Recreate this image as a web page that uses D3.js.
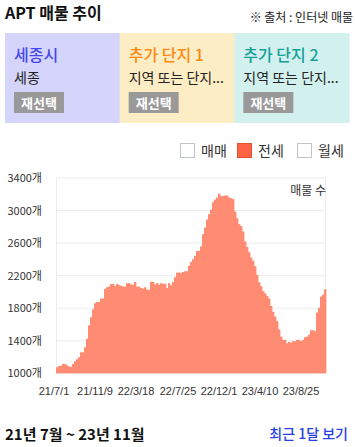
<!DOCTYPE html>
<html><head><meta charset="utf-8">
<script src="https://cdn.jsdelivr.net/npm/d3@7"></script>
<style>
html,body{margin:0;padding:0;background:#fff;}
svg{display:block;font-family:"Noto Sans CJK KR","Noto Sans",sans-serif;}
</style></head>
<body><svg id="c" width="355" height="447"></svg>
<script>
// ---- data ----
const values = [1074,1090,1090,1114,1114,1098,1081,1081,1114,1147,1172,1197,1258,1258,1320,1425,1590,1689,1787,1861,
1877,1877,1918,1918,2037,2057,2065,2098,2098,2073,2098,2085,2073,2065,2065,2107,2107,2090,2090,2123,
2065,2065,2049,2040,2057,2030,2025,2123,2123,2090,2107,2090,2107,2100,2100,2049,2107,2082,2123,2181,
2238,2238,2230,2246,2254,2254,2320,2369,2402,2443,2504,2504,2560,2710,2791,2889,2956,3012,3103,3135,
3160,3209,3177,3177,3185,3185,3160,3152,3140,2988,2906,2833,2808,2742,2619,2554,2488,2422,2381,2316,
2209,2119,2070,2008,1984,1951,1920,1828,1755,1697,1640,1540,1451,1410,1410,1369,1385,1377,1394,1394,
1410,1410,1394,1410,1443,1451,1475,1530,1530,1516,1746,1803,1943,1967,2033];
const tickLabels = ["21/7/1","21/11/9","22/3/18","22/7/25","22/12/1","23/4/10","23/8/25"];
const tickIndex = [-1,19.5,40,61,81.5,102,122.5];
const yTicks = [1000,1400,1800,2200,2600,3000,3400];
const panels = [
  {title:"세종시", sub:"세종", bg:"#d5d5fb", color:"#4646ee"},
  {title:"추가 단지 1", sub:"지역 또는 단지...", bg:"#fdedc4", color:"#ff8a12"},
  {title:"추가 단지 2", sub:"지역 또는 단지...", bg:"#d2f1ee", color:"#16a09a"}
];
const legendItems = [
  {label:"매매", on:false},
  {label:"전세", on:true},
  {label:"월세", on:false}
];

(function(){
const svg = d3.select("#c");

// title
svg.append("text").attr("x",5).attr("y",19).attr("font-size",16).attr("font-weight","bold")
  .attr("fill","#111").text("APT 매물 추이");
svg.append("text").attr("x",353).attr("y",22).attr("text-anchor","end").attr("font-size",12)
  .attr("fill","#222").text("※ 출처 : 인터넷 매물");

// panels
const px = d3.scaleBand().domain(d3.range(panels.length)).range([5,349]);
const pg = svg.selectAll("g.panel").data(panels).join("g")
  .attr("transform",(d,i)=>`translate(${px(i)},33)`);
pg.append("rect").attr("width",px.bandwidth()+0.5).attr("height",90).attr("fill",d=>d.bg);
pg.append("text").attr("x",9).attr("y",28).attr("font-size",16).attr("font-weight",500)
  .attr("fill",d=>d.color).text(d=>d.title);
pg.append("text").attr("x",9).attr("y",50).attr("font-size",14).attr("fill","#222").text(d=>d.sub);
pg.append("rect").attr("x",9).attr("y",59).attr("width",50).attr("height",21).attr("fill","#999");
pg.append("text").attr("x",34).attr("y",74.5).attr("text-anchor","middle").attr("font-size",13)
  .attr("font-weight","bold").attr("fill","#fff").text("재선택");

// legend
const lx = [180,237,297];
const lg = svg.selectAll("g.leg").data(legendItems).join("g")
  .attr("transform",(d,i)=>`translate(${lx[i]},143)`);
lg.append("rect").attr("x",0.5).attr("y",0.5).attr("width",14).attr("height",14)
  .attr("fill",d=>d.on?"#ff6347":"#fff").attr("stroke",d=>d.on?"#e4502f":"#bfc3cc");
lg.append("text").attr("x",21).attr("y",12.5).attr("font-size",14).attr("fill","#333").text(d=>d.label);

// chart
const pL=56, pR=326, pT=178, pB=373.3;
const x = d3.scaleLinear().domain([0,values.length]).range([pL,pR]);
const y = d3.scaleLinear().domain([1000,3400]).range([pB,pT]);

svg.append("g").selectAll("line").data(yTicks).join("line")
  .attr("x1",pL).attr("x2",pR).attr("y1",d=>y(d)).attr("y2",d=>y(d))
  .attr("stroke","#ececec").attr("stroke-width",1);
svg.append("line").attr("x1",pL+0.5).attr("x2",pL+0.5).attr("y1",pT).attr("y2",pB).attr("stroke","#ececec");
svg.append("line").attr("x1",pR-0.5).attr("x2",pR-0.5).attr("y1",pT).attr("y2",pB).attr("stroke","#ececec");

svg.append("g").selectAll("rect").data(values).join("rect")
  .attr("x",(d,i)=>x(i)).attr("width",(d,i)=>x(i+1)-x(i)+0.4)
  .attr("y",d=>y(d)).attr("height",d=>y(1000)-y(d))
  .attr("fill","#ff8b72");

// y labels
svg.append("g").selectAll("text").data(yTicks).join("text")
  .attr("x",42).attr("y",d=>y(d)+4).attr("text-anchor","end").attr("font-size",11)
  .attr("fill","#333").text(d=>d+"개");

// x labels
svg.append("g").selectAll("text").data(tickLabels).join("text")
  .attr("x",(d,i)=>x(tickIndex[i])).attr("y",395).attr("text-anchor","middle").attr("font-size",11)
  .attr("font-family","'Liberation Sans',Arial,sans-serif")
  .attr("fill","#333").text(d=>d);

svg.append("text").attr("x",326).attr("y",195).attr("text-anchor","end").attr("font-size",12)
  .attr("fill","#333").text("매물 수");

// footer
svg.append("text").attr("x",5).attr("y",440).attr("font-size",15).attr("font-weight","bold")
  .attr("fill","#111").text("21년 7월 ~ 23년 11월");
svg.append("text").attr("x",348).attr("y",439).attr("text-anchor","end").attr("font-size",14)
  .attr("font-weight",500).attr("fill","#2b3fe6").text("최근 1달 보기");
})();
</script></body></html>
